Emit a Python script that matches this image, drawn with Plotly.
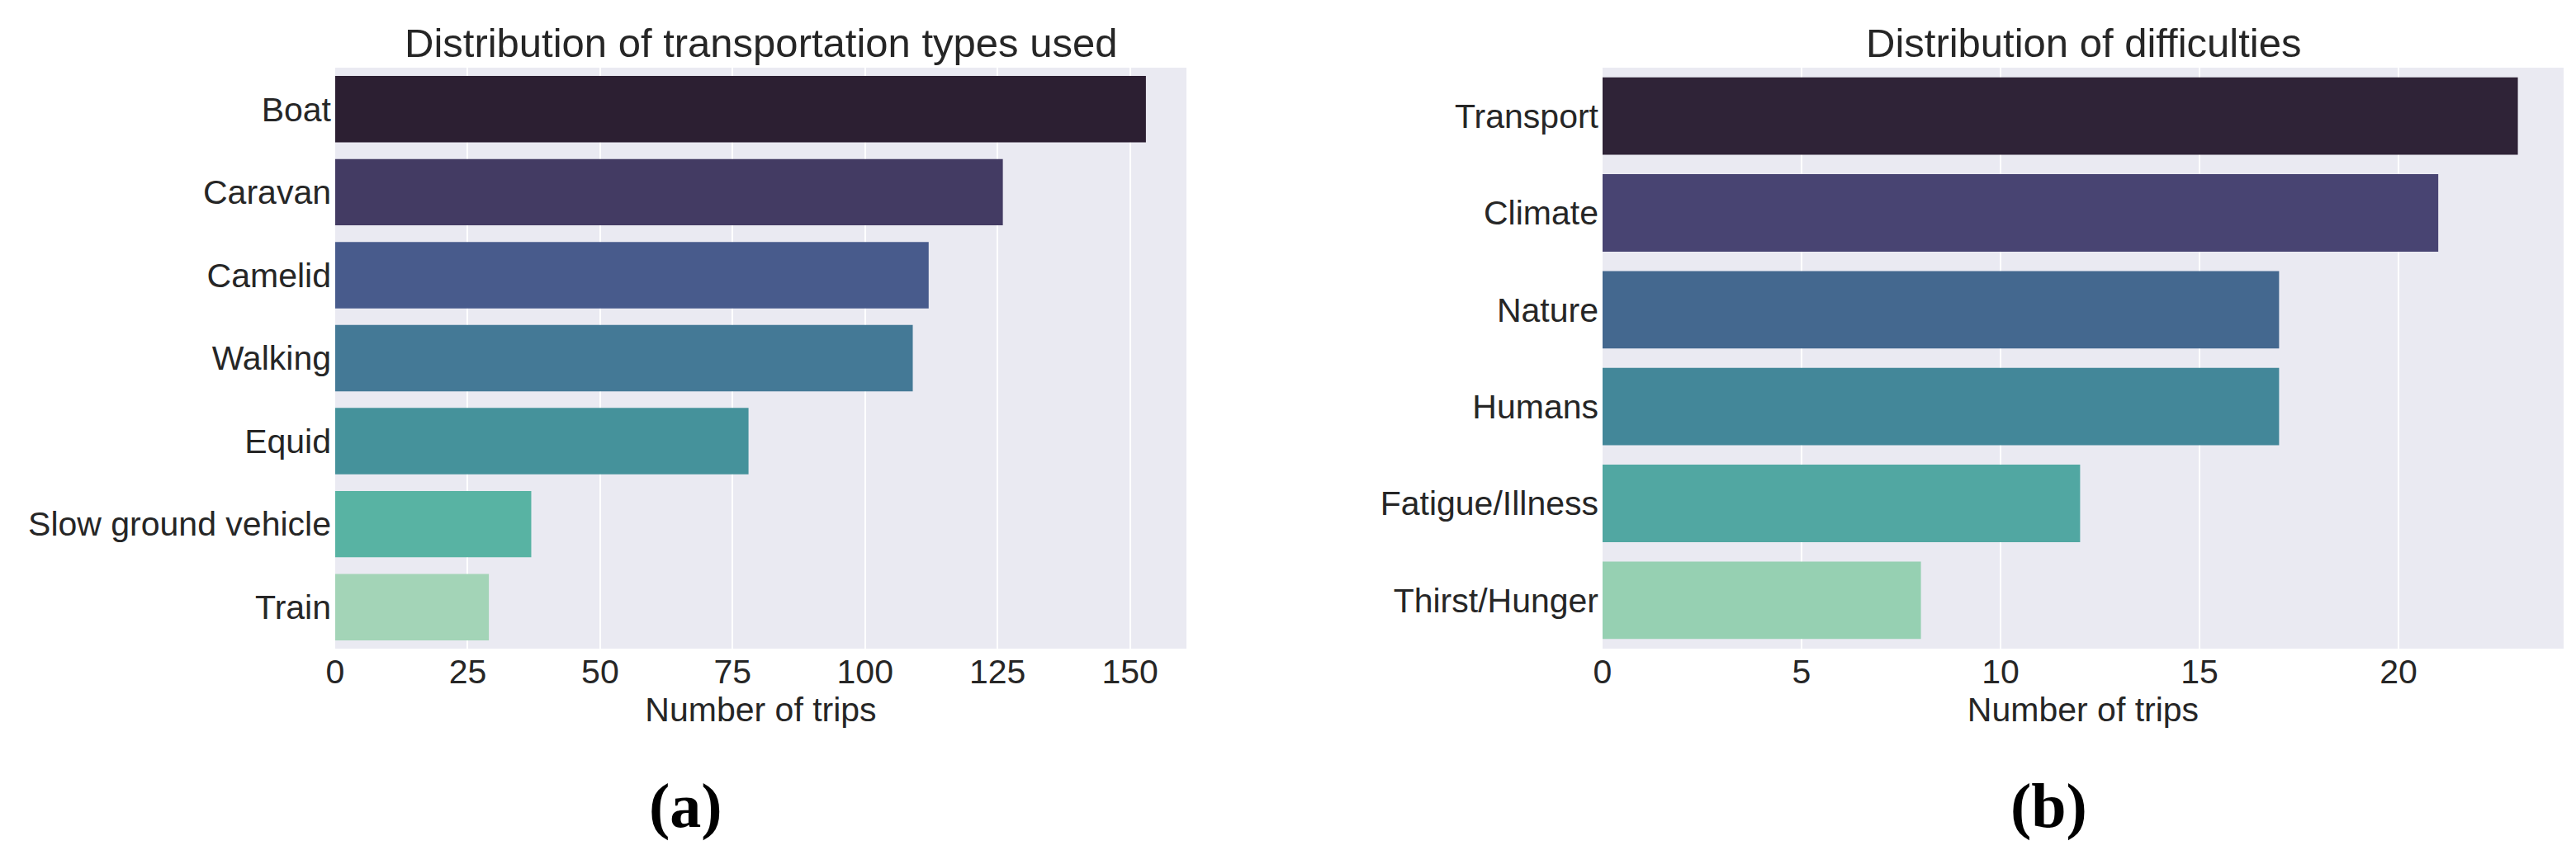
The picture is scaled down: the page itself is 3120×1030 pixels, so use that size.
import plotly.graph_objects as go

# Panel (a): transportation types
transport_types = ["Boat", "Caravan", "Camelid", "Walking", "Equid", "Slow ground vehicle", "Train"]
transport_counts = [153, 126, 112, 109, 78, 37, 29]
transport_colors = ["#2C1F32", "#433B63", "#485B8C", "#447996", "#45929B", "#58B3A3", "#A3D4B7"]

# Panel (b): difficulties
difficulties = ["Transport", "Climate", "Nature", "Humans", "Fatigue/Illness", "Thirst/Hunger"]
difficulty_counts = [23, 21, 17, 17, 12, 8]
difficulty_colors = ["#2F2337", "#484472", "#44688F", "#438799", "#51A7A2", "#96D0B2"]

transport_ticks = [0, 25, 50, 75, 100, 125, 150]
difficulty_ticks = [0, 5, 10, 15, 20]

W, H = 3120, 1030
FONT = "Liberation Sans, Arial, sans-serif"
TXT = "#262626"

fig = go.Figure()
fig.add_trace(go.Bar(
    x=transport_counts, y=transport_types, orientation="h",
    marker=dict(color=transport_colors, line=dict(width=0)),
    width=0.8, xaxis="x", yaxis="y", showlegend=False,
))
fig.add_trace(go.Bar(
    x=difficulty_counts, y=difficulties, orientation="h",
    marker=dict(color=difficulty_colors, line=dict(width=0)),
    width=0.8, xaxis="x2", yaxis="y2", showlegend=False,
))

y_dom = [1 - 778 / H, 1 - 74 / H]
ax_common = dict(
    showgrid=True, gridcolor="white", gridwidth=2, zeroline=False, automargin=False,
    showline=False, ticks="", tickfont=dict(size=41, color=TXT, family=FONT),
)
cat_common = dict(
    showgrid=False, zeroline=False, showline=False, ticks="", automargin=False,
    autorange="reversed", tickfont=dict(size=41, color=TXT, family=FONT),
    ticklabelstandoff=4,
)

fig.update_layout(
    width=W, height=H,
    margin=dict(l=0, r=0, t=0, b=0),
    paper_bgcolor="white", plot_bgcolor="#EAEAF2",
    bargap=0.2,
    xaxis=dict(domain=[398 / W, 1429 / W], range=[0, 153 * 1.05], tickvals=transport_ticks,
               anchor="y", title=dict(text="Number of trips", font=dict(size=41, color=TXT, family=FONT),
                                      standoff=4), **ax_common),
    yaxis=dict(domain=y_dom, anchor="x", **cat_common),
    xaxis2=dict(domain=[1933 / W, 3097 / W], range=[0, 23 * 1.05], tickvals=difficulty_ticks,
                anchor="y2", title=dict(text="Number of trips", font=dict(size=41, color=TXT, family=FONT),
                                        standoff=4), **ax_common),
    yaxis2=dict(domain=y_dom, anchor="x2", **cat_common),
    annotations=[
        dict(text="Distribution of transportation types used", x=(398 + 1429) / 2 / W, y=1 - 44 / H,
             xref="paper", yref="paper", showarrow=False, xanchor="center", yanchor="middle",
             font=dict(size=49, color=TXT, family=FONT)),
        dict(text="Distribution of difficulties", x=(1933 + 3097) / 2 / W, y=1 - 44 / H,
             xref="paper", yref="paper", showarrow=False, xanchor="center", yanchor="middle",
             font=dict(size=49, color=TXT, family=FONT)),
        dict(text="<b>(a)</b>", x=822 / W, y=1 - 968 / H, xref="paper", yref="paper",
             showarrow=False, xanchor="center", yanchor="middle",
             font=dict(size=76, color="black", family="Liberation Serif, Times New Roman, serif")),
        dict(text="<b>(b)</b>", x=2473 / W, y=1 - 968 / H, xref="paper", yref="paper",
             showarrow=False, xanchor="center", yanchor="middle",
             font=dict(size=76, color="black", family="Liberation Serif, Times New Roman, serif")),
    ],
)

fig.write_html("out.html")
